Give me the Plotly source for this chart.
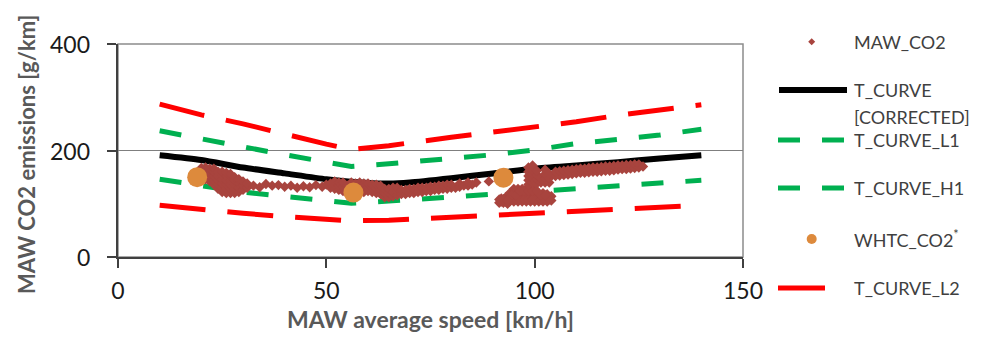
import plotly.graph_objects as go

# ---------------- data ----------------
band_speed = [10, 20, 30, 40, 50, 56, 65, 80, 90, 100, 110, 120, 130, 140]
t_curve_l2_high = [287, 267, 250, 230, 212, 202, 209, 225, 234, 244, 254, 266, 276, 286]
t_curve_l1 = [237, 223, 207, 192, 178, 170, 175, 184, 192, 201, 213, 221, 229, 240]
t_curve_h1 = [146, 134, 122, 114, 105, 101, 105, 113, 118, 123, 128, 133, 138, 144]
t_curve_l2 = [97, 89, 82, 76, 71, 68, 69, 75, 79, 82, 86, 89, 93, 97]

t_speed = [10, 20, 30, 40, 50, 60, 65, 70, 80, 90, 100, 110, 120, 130, 140]
t_curve = [191, 182, 168, 157, 146, 139, 138, 140, 148, 157, 166, 172, 178, 185, 191]

whtc_speed = [19, 56.5, 92.5]
whtc_co2 = [150, 121, 149]

maw_speed = [
    # cluster 20-31 km/h
    20, 20, 20, 21, 21, 21, 21, 22, 22, 22, 22, 23, 23, 23, 23, 23, 24, 24, 24, 24, 24,
    25, 25, 25, 25, 25, 25, 26, 26, 26, 26, 26, 26, 27, 27, 27, 27, 27, 27,
    28, 28, 28, 28, 28, 29, 29, 29, 29, 30, 30, 30, 31, 31,
    # sparse trail
    32.5, 34, 35.5, 37, 38.5, 40, 41.5, 43, 44.5, 46, 47.5, 49,
    # band 50-63
    50, 51, 51, 52, 52, 52, 53, 53, 53, 54, 54, 54, 55, 55, 56, 56, 56, 57, 57, 57,
    58, 58, 58, 59, 59, 59, 60, 60, 60, 61, 61, 61, 62, 62, 62, 63, 63, 63,
    # band 64-89
    64, 64, 64, 65, 65, 65, 66, 66, 66, 67, 67, 67, 68, 68, 69, 69, 70, 70, 71, 71,
    72, 72, 73, 73, 74, 74, 75, 75, 76, 76, 77, 77, 78, 78, 79, 79, 80, 80,
    81, 82, 82, 83, 84, 84, 85, 86, 89,
    # cluster 92-104 km/h, lower body
    92, 92, 93, 93, 94, 94, 94, 95, 95, 95, 95, 96, 96, 96, 96, 97, 97, 97, 97,
    98, 98, 98, 98, 99, 99, 99, 99, 100, 100, 100, 100, 101, 101, 101,
    102, 102, 102, 103, 103, 103, 104, 104,
    92.5, 93.5, 94.5, 95.5, 96.5, 97.5, 98.5, 99.5, 100.5, 101.5, 102.5, 103.5,
    94.5, 95.5, 96.5, 97.5, 98.5, 99.5, 100.5, 101.5, 102.5,
    91.5, 92.5, 93.5, 91.5, 92.5, 93.5,
    # upper body
    98.5, 98.5, 98.5, 98.5, 98.5, 99.5, 99.5, 99.5, 99.5, 99.5, 100.5, 100.5, 100.5, 100.5,
    101.5, 101.5, 102.5, 102.5, 102.5, 102.5, 103.5, 103.5, 103.5,
    # band 105-126
    105, 105, 106, 106, 107, 107, 108, 108, 109, 109, 110, 110, 111, 111, 112, 112,
    113, 113, 114, 114, 115, 115, 116, 116, 117, 117, 118, 118, 119, 119, 120, 120,
    121, 121, 122, 122, 123, 123, 124, 124, 125, 125, 126,
]
maw_co2 = [
    152, 160, 167, 146, 154, 162, 168, 142, 150, 158, 166, 136, 144, 152, 160, 166, 128, 136, 144, 152, 160,
    122, 130, 138, 146, 154, 160, 120, 128, 136, 144, 152, 158, 120, 128, 136, 144, 152, 156,
    120, 128, 136, 144, 150, 122, 130, 138, 146, 126, 134, 142, 130, 138,
    134, 131, 137, 134, 135, 132, 134, 130, 133, 131, 135, 132,
    136, 130, 138, 128, 136, 142, 126, 134, 140, 124, 132, 140, 126, 134, 124, 132, 140, 122, 130, 138,
    124, 132, 140, 122, 130, 138, 124, 132, 138, 122, 130, 136, 120, 128, 136, 118, 126, 134,
    112, 120, 128, 112, 120, 128, 114, 122, 130, 116, 124, 130, 118, 126, 118, 126, 120, 128, 120, 128,
    122, 130, 122, 130, 124, 130, 124, 132, 126, 132, 126, 134, 128, 134, 128, 136, 130, 136,
    130, 132, 138, 134, 134, 140, 136, 140, 142,
    104, 110, 104, 112, 104, 112, 120, 104, 112, 120, 128, 104, 112, 120, 128, 104, 112, 120, 128,
    104, 112, 120, 128, 104, 112, 120, 128, 104, 112, 120, 128, 104, 112, 120,
    104, 112, 120, 104, 112, 118, 106, 114,
    108, 108, 108, 108, 108, 108, 108, 108, 108, 108, 108, 108,
    116, 116, 124, 124, 124, 124, 124, 116, 116,
    102, 102, 100, 108, 108, 106,
    136, 144, 152, 160, 168, 140, 148, 156, 164, 172, 138, 146, 154, 162,
    140, 148, 140, 148, 156, 164, 140, 148, 156,
    152, 160, 153, 161, 154, 162, 155, 163, 156, 164, 157, 165, 158, 166, 158, 166,
    159, 167, 160, 168, 160, 168, 161, 169, 162, 170, 162, 170, 163, 171, 164, 172,
    165, 172, 165, 173, 166, 173, 167, 174, 168, 174, 170,
]

x_ticks = [0, 50, 100, 150]
y_ticks = [0, 200, 400]
y_tick_labels = ["0", "200", "400"]

# ---------------- styling ----------------
RED = "#FF0000"
GREEN = "#00B050"
BROWN = "#A8443E"
ORANGE = "#DD8A3C"
AXIS = "#404040"
FONT = "Lato"

# page offset (default body margin) and plot area in screen pixels
OFF = 8
L, R, T, B = 118, 743, 44, 257
W, H = 984 - OFF, 338 - OFF


def px(xp):
    return (xp - L) / (R - L)


def py(yp):
    return (B - yp) / (B - T)


fig = go.Figure()

fig.add_trace(go.Scatter(x=band_speed, y=t_curve_l2_high, mode="lines",
                         line=dict(color=RED, width=5, dash="46px,22px"), showlegend=False))
fig.add_trace(go.Scatter(x=band_speed, y=t_curve_l2, mode="lines", name="T_CURVE_L2",
                         line=dict(color=RED, width=5, dash="46px,22px"), showlegend=False))
fig.add_trace(go.Scatter(x=band_speed, y=t_curve_l1, mode="lines", name="T_CURVE_L1",
                         line=dict(color=GREEN, width=5, dash="22px,22px"), showlegend=False))
fig.add_trace(go.Scatter(x=band_speed, y=t_curve_h1, mode="lines", name="T_CURVE_H1",
                         line=dict(color=GREEN, width=5, dash="22px,22px"), showlegend=False))
fig.add_trace(go.Scatter(x=t_speed, y=t_curve, mode="lines", name="T_CURVE [CORRECTED]",
                         line=dict(color="black", width=6, shape="spline", smoothing=0.6),
                         showlegend=False))
fig.add_trace(go.Scatter(x=maw_speed, y=maw_co2, mode="markers", name="MAW_CO2",
                         marker=dict(symbol="diamond", size=8, color=BROWN,
                                     line=dict(width=0)), showlegend=False))
fig.add_trace(go.Scatter(x=whtc_speed, y=whtc_co2, mode="markers", name="WHTC_CO2*",
                         marker=dict(symbol="circle", size=20, color=ORANGE,
                                     line=dict(width=0)), showlegend=False))

shapes = [
    # frame (top/right)
    dict(type="rect", xref="paper", yref="paper", x0=0, x1=1, y0=0, y1=1,
         line=dict(color="#8C8C8C", width=1.5), layer="below"),
    # legend samples
    dict(type="path", xref="paper", yref="paper",
         path=f"M {px(811.7 - 3.5)} {py(41.7)} L {px(811.7)} {py(41.7 - 3.5)} "
              f"L {px(811.7 + 3.5)} {py(41.7)} L {px(811.7)} {py(41.7 + 3.5)} Z",
         fillcolor=BROWN, line=dict(width=0)),
    dict(type="line", xref="paper", yref="paper", x0=px(779), x1=px(847), y0=py(90), y1=py(90),
         line=dict(color="black", width=6)),
    dict(type="line", xref="paper", yref="paper", x0=px(778), x1=px(846), y0=py(140), y1=py(140),
         line=dict(color=GREEN, width=5, dash="22px,22px")),
    dict(type="line", xref="paper", yref="paper", x0=px(778), x1=px(846), y0=py(188), y1=py(188),
         line=dict(color=GREEN, width=5, dash="22px,22px")),
    dict(type="circle", xref="paper", yref="paper", x0=px(806.7), x1=px(816.7),
         y0=py(244), y1=py(234), fillcolor=ORANGE, line=dict(width=0)),
    dict(type="line", xref="paper", yref="paper", x0=px(778), x1=px(825), y0=py(288), y1=py(288),
         line=dict(color=RED, width=5)),
]

legend_texts = [
    ("MAW_CO2", 42),
    ("T_CURVE", 90),
    ("[CORRECTED]", 117),
    ("T_CURVE_L1", 140),
    ("T_CURVE_H1", 188),
    ("WHTC_CO2<sup>*</sup>", 239),
    ("T_CURVE_L2", 288),
]
annotations = [
    dict(text=t, xref="paper", yref="paper", x=px(852), y=py(yp), xanchor="left",
         yanchor="middle", showarrow=False, font=dict(family=FONT, size=18, color="#404040"))
    for t, yp in legend_texts
]
# y tick labels, placed at the axis' tick values
annotations += [
    dict(text=lab, xref="paper", yref="y", x=px(92), y=v, xanchor="right", yanchor="middle",
         showarrow=False, font=dict(family=FONT, size=23, color="#1A1A1A"))
    for v, lab in zip(y_ticks, y_tick_labels)
]
# y axis title
annotations.append(
    dict(text="<b>MAW CO2 emissions [g/km]</b>", xref="paper", yref="paper", x=px(26), y=py(155),
         xanchor="center", yanchor="middle", textangle=-90, showarrow=False,
         font=dict(family=FONT, size=22, color="#595959"))
)

fig.update_layout(
    width=W, height=H,
    margin=dict(l=L - OFF, r=W - (R - OFF), t=T - OFF, b=H - (B - OFF), autoexpand=False),
    paper_bgcolor="white", plot_bgcolor="white",
    font=dict(family=FONT, color="#1A1A1A"),
    shapes=shapes, annotations=annotations,
    showlegend=False,
)
fig.update_xaxes(
    range=[0, 150], tickvals=x_ticks, ticks="outside", ticklen=9, tickwidth=1.5,
    tickcolor=AXIS, showline=True, linecolor=AXIS, linewidth=1.5,
    showgrid=False, zeroline=False, ticklabelposition="outside", ticklabelstandoff=4,
    tickfont=dict(family=FONT, size=23, color="#1A1A1A"),
    title=dict(text="MAW average speed [km/h]", standoff=9,
               font=dict(family=FONT, size=23, color="#595959", weight="bold")),
)
fig.update_yaxes(
    range=[0, 400], tickvals=y_ticks, showticklabels=False,
    ticks="outside", ticklen=9, tickwidth=1.5, tickcolor=AXIS,
    showline=True, linecolor=AXIS, linewidth=1.5,
    showgrid=True, gridcolor="#7F7F7F", gridwidth=1, zeroline=False,
)

fig.write_html("out.html")
